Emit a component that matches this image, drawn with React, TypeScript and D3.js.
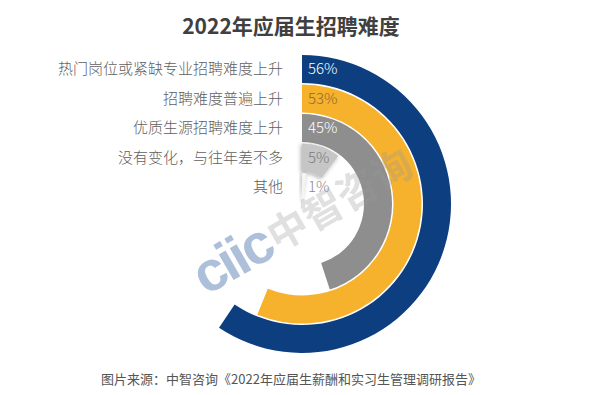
import React, { useEffect, useRef } from "react";
import * as d3 from "d3";

const categories = [
  "热门岗位或紧缺专业招聘难度上升",
  "招聘难度普遍上升",
  "优质生源招聘难度上升",
  "没有变化，与往年差不多",
  "其他",
];
// percentages printed on each ring
const labelPct = [56, 53, 45, 5, 1];
// sweep of each ring as drawn in the source graphic (share of a full turn)
const arcShare = [59.4, 56.1, 45, 10.3, 2.2];
const ringColors = ["#0d3f80", "#f6b12d", "#8e8e8e", "#c6c6c6", "#f4f4f4"];
const pctColors = ["#ffffff", "#8a6a2e", "#ffffff", "#7a7a7a", "#8a8a8a"];

const title = "2022年应届生招聘难度";
const source = "图片来源：中智咨询《2022年应届生薪酬和实习生管理调研报告》";

const W = 600;
const H = 395;
const FONT = "'Noto Sans CJK SC', 'Noto Sans', sans-serif";

const App: React.FC = () => {
  const svgRef = useRef<SVGSVGElement | null>(null);

  useEffect(() => {
    if (!svgRef.current) return;
    const svg = d3.select(svgRef.current);
    svg.selectAll("*").remove();

    const cx = 302;
    const cy = 204;
    const outerR = 149;
    const step = 29.5;
    const band = 28;

    const angle = d3.scaleLinear().domain([0, 100]).range([0, 2 * Math.PI]);

    const defs = svg.append("defs");
    const shadow = defs
      .append("filter")
      .attr("id", "soft-shadow")
      .attr("x", "-50%")
      .attr("y", "-50%")
      .attr("width", "200%")
      .attr("height", "200%");
    shadow
      .append("feDropShadow")
      .attr("dx", -1)
      .attr("dy", 1)
      .attr("stdDeviation", 2)
      .attr("flood-color", "#000")
      .attr("flood-opacity", 0.35);

    // title
    svg
      .append("text")
      .attr("x", 291)
      .attr("y", 34)
      .attr("text-anchor", "middle")
      .attr("font-family", FONT)
      .attr("font-size", 21)
      .attr("font-weight", "bold")
      .attr("fill", "#404040")
      .text(title);

    const g = svg.append("g").attr("transform", `translate(${cx},${cy})`);

    const arc = d3
      .arc<number>()
      .innerRadius((_, i) => outerR - i * step - band)
      .outerRadius((_, i) => outerR - i * step)
      .startAngle(0)
      .endAngle((d) => angle(d));

    // rings
    g.selectAll(".ring")
      .data(arcShare)
      .enter()
      .append("path")
      .attr("class", "ring")
      .attr("d", (d, i) => arc(d, i) as string)
      .attr("fill", (_, i) => ringColors[i])
      .style("filter", (_, i) => (i >= 3 ? "url(#soft-shadow)" : null));

    // category labels, right aligned left of the rings
    svg
      .selectAll(".cat")
      .data(categories)
      .enter()
      .append("text")
      .attr("class", "cat")
      .attr("x", 283)
      .attr("y", (_, i) => cy - (outerR - i * step - band / 2))
      .attr("dy", "0.35em")
      .attr("text-anchor", "end")
      .attr("font-family", FONT)
      .attr("font-size", 15)
      .attr("font-weight", 300)
      .attr("fill", "#606060")
      .text((d) => d);

    // percent labels on each ring
    svg
      .selectAll(".pct")
      .data(labelPct)
      .enter()
      .append("text")
      .attr("class", "pct")
      .attr("x", 308)
      .attr("y", (_, i) => cy - (outerR - i * step - band / 2))
      .attr("dy", "0.35em")
      .attr("font-family", FONT)
      .attr("font-size", 15)
      .attr("font-weight", 300)
      .attr("fill", (_, i) => pctColors[i])
      .text((d) => `${d}%`);

    // watermark
    const wm = svg
      .append("g")
      .attr("transform", "translate(206,296) rotate(-30)");
    wm.append("text")
      .attr("x", 0)
      .attr("y", 0)
      .attr("font-family", "'Liberation Sans', Arial, sans-serif")
      .attr("font-size", 56)
      .attr("font-weight", "bold")
      .attr("letter-spacing", -3)
      .attr("fill", "#9fb5d3")
      .attr("opacity", 0.85)
      .text("ciic");
    wm.append("text")
      .attr("x", 84)
      .attr("y", -2)
      .attr("font-family", FONT)
      .attr("font-size", 40)
      .attr("font-weight", "bold")
      .attr("fill", "#9a9a9a")
      .attr("opacity", 0.3)
      .text("中智咨询");

    // source note
    svg
      .append("text")
      .attr("x", 291)
      .attr("y", 384)
      .attr("text-anchor", "middle")
      .attr("font-family", FONT)
      .attr("font-size", 13)
      .attr("fill", "#555555")
      .text(source);
  }, []);

  return (
    <div style={{ position: "fixed", left: 0, top: 0 }}>
      <svg ref={svgRef} width={W} height={H} style={{ display: "block", background: "#fff" }} />
    </div>
  );
};

export default App;
